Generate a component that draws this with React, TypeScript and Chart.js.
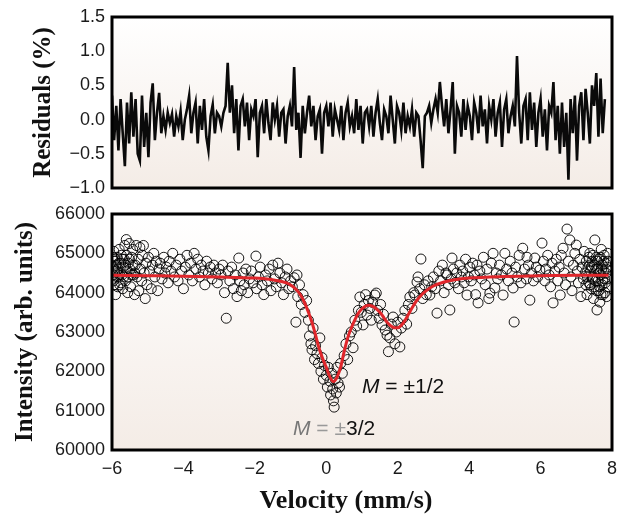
import React, { useEffect, useRef } from 'react';
import { Chart, registerables } from 'chart.js';

Chart.register(...registerables);

// ---------- data ----------
const velocityTicks = [-6, -4, -2, 0, 2, 4, 6, 8];
const residualTicks = [-1.0, -0.5, 0.0, 0.5, 1.0, 1.5];
const intensityTicks = [60000, 61000, 62000, 63000, 64000, 65000, 66000];

// residuals (%) on the velocity channel grid starting at -6 mm/s, 0.06 mm/s per channel
const residualStart = -6;
const residualStep = 0.06;
const residuals = [
  0.35, -0.3, 0.2, -0.45, 0.3, -0.2, -0.68, 0.25, -0.35, 0.4,
  -0.25, 0.3, -0.5, -0.6, 0.35, -0.4, 0.1, -0.55, 0.25, 0.53,
  -0.3, 0.1, 0.39, -0.2, 0.05, -0.15, 0.1, -0.05, 0.08, -0.25,
  0.05, -0.1, 0.12, -0.3, 0.0, 0.15, 0.35, -0.2, 0.1, 0.25,
  -0.35, 0.2, -0.15, 0.3, -0.25, -0.45, 0.05, 0.22, -0.2, 0.1,
  0.05, -0.1, 0.1, 0.2, 0.83, 0.1, 0.5, -0.2, 0.3, -0.45,
  0.2, 0.3, -0.1, 0.25, -0.3, 0.15, 0.05, 0.3, -0.55, 0.1,
  0.2, -0.2, 0.3, -0.05, -0.3, 0.25, 0.0, 0.2, -0.25, 0.1,
  0.15, -0.35, 0.05, 0.2, -0.1, 0.77, -0.15, 0.1, -0.56, 0.2,
  -0.2, 0.1, 0.35, -0.1, 0.2, -0.3, 0.05, 0.15, -0.5, 0.1,
  0.2, -0.1, 0.25, -0.25, 0.15, 0.0, -0.15, 0.2, -0.3, 0.1,
  0.25, -0.1, 0.05, -0.2, 0.3, -0.15, 0.2, -0.35, 0.1, 0.15,
  -0.1, 0.2, -0.25, 0.1, 0.3, -0.05, -0.3, 0.15, 0.05, -0.2,
  0.35, 0.0, -0.35, 0.2, 0.1, -0.15, 0.25, -0.2, 0.05, -0.1,
  0.15, -0.25, 0.1, 0.05, -0.3, -0.71, 0.05, 0.1, 0.2, -0.05,
  0.15, 0.3, 0.1, 0.55, 0.2, -0.1, 0.3, -0.2, 0.15, 0.55,
  -0.5, 0.2, 0.1, -0.25, 0.3, -0.15, 0.2, 0.05, -0.3, 0.25,
  0.1, -0.2, 0.35, -0.1, 0.15, -0.35, 0.2, 0.0, 0.3, -0.25,
  0.1, 0.25, -0.4, 0.15, 0.3, -0.2, 0.05, 0.2, -0.1, 0.93,
  0.1, -0.35, 0.2, 0.3, -0.3, 0.4, -0.15, 0.25, -0.4, 0.1,
  0.3, -0.25, 0.15, -0.45, 0.2, 0.1, 0.55, -0.3, 0.2, -0.5,
  0.25, -0.4, 0.1, -0.88, 0.3, -0.2, 0.35, -0.6, 0.2, 0.4,
  -0.3, 0.45, 0.1, -0.35, 0.5, 0.2, 0.68, -0.25, 0.6, -0.2,
  0.3,
];

// fitted spectrum (red curve)
const fitVelocity = [
  -6, -5, -4, -3, -2, -1.6, -1.4, -1.2, -1.1, -1.0, -0.9, -0.8, -0.7, -0.6, -0.5,
  -0.4, -0.3, -0.2, -0.1, 0.0, 0.1, 0.2, 0.3, 0.4, 0.5, 0.6, 0.7, 0.8, 0.9, 1.0,
  1.1, 1.2, 1.3, 1.4, 1.5, 1.6, 1.7, 1.8, 1.9, 2.0, 2.1, 2.2, 2.3, 2.4, 2.5,
  2.6, 2.8, 3.0, 3.3, 3.6, 4.0, 5.0, 6.0, 7.0, 7.9,
];
const fitIntensity = [
  64440, 64430, 64420, 64400, 64370, 64340, 64310, 64270, 64240, 64195, 64130, 64040, 63910, 63730, 63500,
  63240, 62920, 62580, 62320, 62100, 61860, 61740, 61850, 62100, 62500, 62850, 63100, 63310, 63480, 63590,
  63660, 63680, 63650, 63590, 63500, 63380, 63250, 63160, 63110, 63110, 63170, 63290, 63450, 63610, 63760,
  63880, 64050, 64170, 64270, 64330, 64370, 64410, 64430, 64440, 64440,
];

// measured counts [velocity mm/s, intensity]
const countsLeft: [number, number][] = [
  [-5.99, 64900], [-5.98, 64650], [-5.97, 64450], [-5.96, 64300], [-5.95, 65050], [-5.94, 64200], [-5.93, 64800],
  [-5.92, 64500], [-5.91, 64850], [-5.9, 63950], [-5.88, 64700], [-5.87, 64550], [-5.86, 64900], [-5.85, 64400],
  [-5.84, 64150], [-5.83, 64600], [-5.81, 64750], [-5.8, 65100], [-5.79, 64450], [-5.78, 64200], [-5.76, 64750],
  [-5.75, 64250], [-5.74, 64950], [-5.72, 64450], [-5.71, 64850], [-5.7, 64100], [-5.68, 64650], [-5.67, 64400],
  [-5.66, 64850], [-5.64, 65200], [-5.63, 64700], [-5.62, 64300], [-5.6, 65350], [-5.59, 64950], [-5.58, 64550],
  [-5.56, 64000], [-5.55, 64400], [-5.54, 64750], [-5.52, 65250], [-5.51, 64850], [-5.5, 64600], [-5.48, 64150],
  [-5.46, 64450], [-5.45, 64900], [-5.42, 65100], [-5.41, 64700], [-5.4, 64450], [-5.37, 63950], [-5.36, 64500],
  [-5.35, 64700], [-5.32, 65200], [-5.3, 64400], [-5.27, 64850], [-5.25, 64050], [-5.22, 65150], [-5.2, 64600],
  [-5.17, 64300], [-5.15, 64950], [-5.12, 65200], [-5.1, 64500], [-5.07, 63850], [-5.05, 64750], [-5.02, 64200],
  [-4.98, 64900], [-4.95, 64550], [-4.9, 64100], [-4.87, 64700], [-4.83, 65000], [-4.8, 64400], [-4.76, 64800],
  [-4.72, 64050], [-4.68, 64600], [-4.65, 64750], [-4.6, 64350], [-4.55, 64900], [-4.52, 64500], [-4.48, 64650],
  [-4.43, 64250], [-4.4, 64800], [-4.35, 64550], [-4.3, 65000], [-4.25, 64400], [-4.2, 64700], [-4.15, 64300],
  [-4.1, 64850], [-4.05, 64550], [-4.0, 64100], [-3.95, 64650], [-3.9, 64950], [-3.85, 64450], [-3.8, 64750],
  [-3.75, 64300], [-3.7, 65000], [-3.65, 64600], [-3.6, 64850], [-3.55, 64400], [-3.5, 64700], [-3.45, 64550],
  [-3.4, 64200], [-3.35, 64800], [-3.3, 64500], [-3.25, 64650], [-3.2, 64350], [-3.15, 64700], [-3.1, 64500],
  [-3.05, 64250], [-3.0, 64600],
  [-2.95, 64450], [-2.9, 64700], [-2.85, 64000], [-2.8, 63350], [-2.75, 64550], [-2.7, 64300], [-2.65, 64650],
  [-2.6, 64100], [-2.55, 64450], [-2.5, 63900], [-2.45, 64880], [-2.42, 64300], [-2.38, 64050], [-2.33, 64500],
  [-2.3, 64200], [-2.25, 64600], [-2.2, 64000], [-2.15, 64350], [-2.1, 64550], [-2.05, 64250], [-1.97, 64930],
  [-1.95, 64100], [-1.9, 64400], [-1.85, 64650], [-1.8, 64200], [-1.75, 63950], [-1.7, 64450], [-1.65, 64300],
  [-1.6, 64600], [-1.55, 64050], [-1.5, 64700], [-1.45, 64350], [-1.4, 64150], [-1.35, 64750], [-1.3, 64500],
  [-1.25, 64250], [-1.2, 63950], [-1.15, 64400], [-1.1, 64600], [-1.05, 64100], [-1.0, 64300],
];
const countsDip: [number, number][] = [
  [-0.95, 64150], [-0.9, 64380], [-0.85, 63250], [-0.82, 64450], [-0.8, 63900], [-0.75, 64200], [-0.7, 63700],
  [-0.65, 63950], [-0.6, 63500], [-0.55, 63800], [-0.5, 63300], [-0.47, 62900], [-0.43, 62700], [-0.4, 62550],
  [-0.37, 63100], [-0.33, 62300], [-0.3, 62650], [-0.26, 62450], [-0.22, 62200], [-0.18, 62850], [-0.15, 62000],
  [-0.12, 62350], [-0.08, 61800], [-0.05, 62150], [0.0, 61900], [0.03, 61600], [0.06, 62100], [0.1, 61750],
  [0.12, 61400], [0.15, 61950], [0.18, 61550], [0.2, 61250], [0.22, 61090], [0.25, 61800], [0.28, 61450],
  [0.3, 62100], [0.33, 61700], [0.37, 61600], [0.4, 62200], [0.45, 61950], [0.5, 62400], [0.55, 62700],
  [0.6, 62300], [0.65, 62900], [0.7, 63000], [0.75, 62600], [0.8, 63300], [0.85, 63150], [0.9, 63550],
  [0.94, 63890], [0.98, 63500], [1.03, 63180], [1.06, 63700], [1.1, 63950], [1.14, 63430], [1.18, 63800],
  [1.22, 63600], [1.26, 63300], [1.3, 63750], [1.36, 63940], [1.4, 63990], [1.44, 63550], [1.48, 63350],
  [1.52, 63700], [1.56, 63180], [1.6, 63450], [1.65, 63050], [1.7, 62920], [1.74, 62500], [1.78, 62850],
  [1.82, 63200], [1.87, 63380], [1.92, 62700], [1.96, 63000], [2.0, 63250], [2.06, 62620], [2.1, 63100],
  [2.15, 63350], [2.2, 63550], [2.25, 63200], [2.3, 63700], [2.34, 63890], [2.4, 63600], [2.45, 64000],
  [2.48, 63940], [2.54, 64270], [2.57, 64400], [2.62, 64100], [2.65, 64855], [2.7, 63850], [2.75, 64200],
  [2.8, 63950], [2.85, 64300], [2.9, 63940], [2.95, 64150], [3.0, 64400],
];
const countsRight: [number, number][] = [
  [3.05, 64100], [3.1, 63480], [3.15, 64550], [3.2, 64300], [3.25, 64700], [3.3, 64000], [3.35, 64500],
  [3.38, 64450], [3.42, 64200], [3.46, 63560], [3.5, 64350], [3.52, 64880], [3.56, 64600], [3.6, 64250],
  [3.65, 64500], [3.7, 64100], [3.74, 64700], [3.78, 64400], [3.82, 64550], [3.86, 64250], [3.9, 64850],
  [3.94, 63940], [3.98, 64400], [4.02, 64650], [4.06, 64300], [4.1, 64750], [4.15, 64450], [4.18, 63950],
  [4.22, 64700], [4.25, 63740], [4.3, 64550], [4.35, 64350], [4.4, 64900], [4.45, 64200], [4.5, 64600],
  [4.55, 63850], [4.58, 63990], [4.62, 64750], [4.67, 65000], [4.72, 64120], [4.76, 64500], [4.8, 64350],
  [4.85, 64700], [4.9, 64450], [4.95, 63940], [5.0, 65000], [5.05, 64600], [5.1, 64300], [5.15, 64800],
  [5.2, 64500], [5.23, 64120], [5.26, 63254], [5.3, 64650], [5.35, 64400], [5.4, 64950], [5.45, 64250],
  [5.5, 65130], [5.55, 64600], [5.6, 64350], [5.62, 64900], [5.66, 64700], [5.7, 63810], [5.75, 64500],
  [5.8, 64300], [5.84, 64880], [5.88, 64650], [5.92, 64400], [5.98, 64576],
  [6.04, 65260], [6.08, 64800], [6.12, 64300], [6.15, 64600], [6.2, 64950], [6.24, 64450], [6.28, 64150],
  [6.32, 64750], [6.35, 63740], [6.4, 64550], [6.44, 64850], [6.48, 64300], [6.52, 64650], [6.55, 63940],
  [6.58, 64950], [6.63, 65130], [6.66, 64500], [6.7, 64200], [6.74, 65617], [6.78, 64800], [6.82, 65340],
  [6.85, 64400], [6.88, 64050], [6.92, 64700], [6.96, 65000], [7.0, 65210], [7.03, 64550], [7.06, 64250],
  [7.1, 64850], [7.13, 63900], [7.16, 64650], [7.2, 64350], [7.22, 65050], [7.25, 64500], [7.27, 64200],
  [7.28, 64800], [7.3, 63950], [7.31, 64400], [7.33, 64650], [7.35, 64900], [7.36, 64250], [7.37, 64700],
  [7.38, 65000], [7.39, 64200], [7.4, 64550], [7.42, 64100], [7.43, 64650], [7.44, 64800], [7.45, 64350],
  [7.46, 64400], [7.47, 64950], [7.48, 63850], [7.5, 64700], [7.51, 64150], [7.52, 65340], [7.54, 64300],
  [7.55, 64600], [7.56, 64900], [7.57, 64050], [7.58, 63560], [7.59, 64800], [7.6, 64600], [7.61, 64300],
  [7.62, 64050], [7.63, 64500], [7.64, 64850], [7.65, 64150], [7.66, 63760], [7.67, 64900], [7.68, 64450],
  [7.69, 63950], [7.7, 65100], [7.71, 64600], [7.72, 64200], [7.73, 64700], [7.74, 64300], [7.75, 63950],
  [7.76, 64550], [7.77, 64800], [7.78, 64950], [7.79, 64350], [7.8, 64000], [7.81, 64250], [7.82, 64750],
  [7.83, 64500], [7.84, 64600], [7.85, 63900], [7.86, 64650], [7.87, 64350], [7.88, 65000], [7.89, 64800],
  [7.9, 64150],
];

// ---------- styling ----------
const SANS = "'Liberation Sans', Arial, Helvetica, sans-serif";
const SERIF = "'Liberation Serif', 'Times New Roman', serif";
const TEXT = '#1a1a1a';

const minus = (s: string) => s.replace('-', '\u2212');

const panelPlugin = {
  id: 'panel',
  beforeDatasetsDraw(chart: any) {
    const { ctx, chartArea: a } = chart;
    const g = ctx.createLinearGradient(0, a.top, 0, a.bottom);
    g.addColorStop(0, '#ffffff');
    g.addColorStop(1, '#f4ece6');
    ctx.save();
    ctx.fillStyle = g;
    ctx.fillRect(a.left, a.top, a.right - a.left, a.bottom - a.top);
    ctx.restore();
  },
  afterDraw(chart: any) {
    const { ctx, chartArea: a } = chart;
    ctx.save();
    ctx.strokeStyle = '#000';
    ctx.lineWidth = 3;
    ctx.strokeRect(a.left, a.top, a.right - a.left, a.bottom - a.top);
    ctx.restore();
  },
};

function drawParts(ctx: CanvasRenderingContext2D, x: number, y: number, parts: { t: string; italic?: boolean; color: string }[]) {
  let cx = x;
  for (const p of parts) {
    ctx.font = `${p.italic ? 'italic ' : ''}21px ${SANS}`;
    ctx.fillStyle = p.color;
    ctx.fillText(p.t, cx, y);
    cx += ctx.measureText(p.t).width;
  }
}

const labelsPlugin = {
  id: 'labels',
  afterDraw(chart: any) {
    const { ctx, chartArea: a } = chart;
    ctx.save();
    ctx.textBaseline = 'alphabetic';
    ctx.textAlign = 'left';
    drawParts(ctx, a.left + 250, a.top + 179, [
      { t: 'M', italic: true, color: '#111' },
      { t: ' = \u00b11/2', color: '#111' },
    ]);
    drawParts(ctx, a.left + 181, a.top + 221, [
      { t: 'M', italic: true, color: '#777' },
      { t: ' = \u00b1', color: '#999' },
      { t: '3/2', color: '#111' },
    ]);
    // x axis title
    ctx.font = `bold 26px ${SERIF}`;
    ctx.fillStyle = '#111';
    ctx.textAlign = 'center';
    ctx.fillText('Velocity (mm/s)', a.left + 234, a.bottom + 58);
    ctx.restore();
  },
};

const noScalePadding = (s: any) => {
  s.paddingTop = 0;
  s.paddingBottom = 0;
  s.paddingLeft = 0;
  s.paddingRight = 0;
};

export default function App() {
  const topRef = useRef<HTMLCanvasElement>(null);
  const botRef = useRef<HTMLCanvasElement>(null);

  useEffect(() => {
    const resData = residuals.map((v, i) => ({ x: residualStart + i * residualStep, y: v }));
    const top = new Chart(topRef.current!, {
      type: 'line',
      data: {
        datasets: [
          {
            data: resData,
            borderColor: '#0a0a0a',
            borderWidth: 2.6,
            pointRadius: 0,
            tension: 0,
          },
        ],
      },
      options: {
        animation: false,
        responsive: false,
        maintainAspectRatio: false,
        layout: { padding: { left: 29, right: 10, top: 17, bottom: 12 } },
        plugins: { legend: { display: false }, tooltip: { enabled: false } },
        scales: {
          x: { type: 'linear', min: -6, max: 8, display: false },
          y: {
            type: 'linear',
            min: -1,
            max: 1.5,
            grid: { display: false, drawTicks: false },
            border: { display: false },
            afterBuildTicks: (s: any) => {
              s.ticks = residualTicks.map((v) => ({ value: v }));
            },
            ticks: {
              padding: 7,
              color: TEXT,
              font: { family: SANS, size: 18 },
              callback: (v: any) => minus(Number(v).toFixed(1)),
            },
            title: {
              display: true,
              text: 'Residuals (%)',
              color: '#111',
              font: { family: SERIF, size: 25, weight: 'bold' },
              padding: { top: 0, bottom: 0 },
            },
            afterFit: (s: any) => {
              s.width = 83;
              noScalePadding(s);
            },
          },
        },
      } as any,
      plugins: [panelPlugin],
    });

    const points = [...countsLeft, ...countsDip, ...countsRight].map(([x, y]) => ({ x, y }));
    const fit = fitVelocity.map((x, i) => ({ x, y: fitIntensity[i] }));
    const bot = new Chart(botRef.current!, {
      type: 'scatter',
      data: {
        datasets: [
          {
            data: fit,
            showLine: true,
            borderColor: '#e0262b',
            borderWidth: 3,
            pointRadius: 0,
            cubicInterpolationMode: 'monotone',
          } as any,
          {
            data: points,
            pointRadius: 5,
            borderWidth: 1,
            borderColor: 'rgba(0,0,0,0.9)',
            backgroundColor: 'rgba(0,0,0,0)',
          },
        ],
      },
      options: {
        animation: false,
        responsive: false,
        maintainAspectRatio: false,
        layout: { padding: { left: 11, right: 10, top: 14, bottom: 0 } },
        plugins: { legend: { display: false }, tooltip: { enabled: false } },
        scales: {
          x: {
            type: 'linear',
            min: -6,
            max: 8,
            grid: { display: false, drawTicks: false },
            border: { display: false },
            afterBuildTicks: (s: any) => {
              s.ticks = velocityTicks.map((v) => ({ value: v }));
            },
            ticks: {
              padding: 8,
              color: TEXT,
              font: { family: SANS, size: 18 },
              maxRotation: 0,
              callback: (v: any) => minus(String(v)),
            },
            afterFit: (s: any) => {
              s.height = 65;
              noScalePadding(s);
            },
          },
          y: {
            type: 'linear',
            min: 60000,
            max: 66000,
            grid: { display: false, drawTicks: false },
            border: { display: false },
            afterBuildTicks: (s: any) => {
              s.ticks = intensityTicks.map((v) => ({ value: v }));
            },
            ticks: {
              padding: 7,
              color: TEXT,
              font: { family: SANS, size: 18 },
              callback: (v: any) => String(v),
            },
            title: {
              display: true,
              text: 'Intensity (arb. units)',
              color: '#111',
              font: { family: SERIF, size: 25, weight: 'bold' },
              padding: { top: 0, bottom: 0 },
            },
            afterFit: (s: any) => {
              s.width = 101;
              noScalePadding(s);
            },
          },
        },
      } as any,
      plugins: [panelPlugin, labelsPlugin],
    });

    return () => {
      top.destroy();
      bot.destroy();
    };
  }, []);

  return (
    <div style={{ position: 'absolute', left: 0, top: 0, width: 622, height: 515, background: '#fff' }}>
      <canvas ref={topRef} width={622} height={200} style={{ position: 'absolute', left: 0, top: 0, width: 622, height: 200 }} />
      <canvas ref={botRef} width={622} height={315} style={{ position: 'absolute', left: 0, top: 200, width: 622, height: 315 }} />
    </div>
  );
}
